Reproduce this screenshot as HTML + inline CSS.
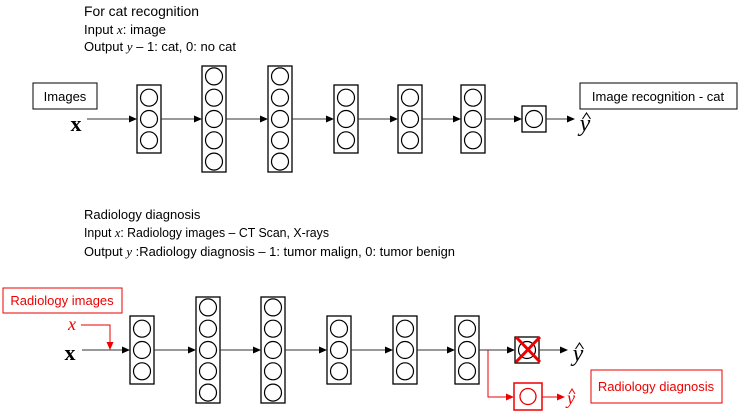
<!DOCTYPE html>
<html><head><meta charset="utf-8"><style>
html,body{margin:0;padding:0;background:#fff;}
svg{display:block;font-family:"Liberation Sans",sans-serif;}
</style></head><body>
<svg id="s" width="741" height="416" viewBox="0 0 741 416">
<defs>
<marker id="ab" markerWidth="8" markerHeight="8" refX="7" refY="4" orient="auto" markerUnits="userSpaceOnUse"><path d="M0,0.5 L8,4 L0,7.5z" fill="#000"/></marker>
<marker id="ar" markerWidth="8" markerHeight="8" refX="7" refY="4" orient="auto" markerUnits="userSpaceOnUse"><path d="M0,0.5 L8,4 L0,7.5z" fill="#e00"/></marker>
</defs>
<text x="84" y="16" font-size="14" textLength="115" lengthAdjust="spacingAndGlyphs">For cat recognition</text>
<text x="84" y="34" font-size="13" textLength="82" lengthAdjust="spacingAndGlyphs">Input <tspan font-family="Liberation Serif" font-style="italic">x</tspan>: image</text>
<text x="84" y="51" font-size="13" textLength="152" lengthAdjust="spacingAndGlyphs">Output <tspan font-family="Liberation Serif" font-style="italic">y</tspan> – 1: cat, 0: no cat</text>
<rect x="33" y="83" width="64" height="26" fill="none" stroke="#000"/>
<text x="65" y="101" font-size="13" text-anchor="middle">Images</text>
<text x="76" y="131" font-size="22" font-weight="bold" font-family="Liberation Serif" text-anchor="middle">x</text>
<rect x="580" y="83" width="157" height="26" fill="none" stroke="#000"/>
<text x="658" y="101" font-size="13" text-anchor="middle">Image recognition - cat</text>
<text x="585" y="131" font-size="24" font-family="Liberation Serif" font-style="italic" text-anchor="middle">y</text>
<path d="M582.5,119 L586.5,113 L590.5,119" fill="none" stroke="#000" stroke-width="1.1"/>

<text x="84" y="219" font-size="13">Radiology diagnosis</text>
<text x="84" y="237" font-size="12.5" textLength="245" lengthAdjust="spacingAndGlyphs">Input <tspan font-family="Liberation Serif" font-style="italic">x</tspan>: Radiology images – CT Scan, X-rays</text>
<text x="84" y="256" font-size="12.5" textLength="371" lengthAdjust="spacingAndGlyphs">Output <tspan font-family="Liberation Serif" font-style="italic">y</tspan> :Radiology diagnosis – 1: tumor malign, 0: tumor benign</text>
<rect x="3" y="288" width="119" height="25" fill="none" stroke="#e00"/>
<text x="62" y="305" font-size="13" fill="#e00" text-anchor="middle">Radiology images</text>
<text x="72" y="330" font-size="18" font-family="Liberation Serif" font-style="italic" fill="#e00" text-anchor="middle">x</text>
<path d="M81,325 H110 V349" fill="none" stroke="#e00" marker-end="url(#ar)"/>
<text x="70" y="360" font-size="22" font-weight="bold" font-family="Liberation Serif" text-anchor="middle">x</text>
<text x="578" y="361" font-size="24" font-family="Liberation Serif" font-style="italic" text-anchor="middle">y</text>
<path d="M575.5,349 L579.5,343 L583.5,349" fill="none" stroke="#000" stroke-width="1.1"/>
<path d="M488,350 V397 H513" fill="none" stroke="#e00" marker-end="url(#ar)"/>
<rect x="514" y="383" width="28" height="27" fill="none" stroke="#e00" stroke-width="1.5"/>
<circle cx="528" cy="396.5" r="8" fill="none" stroke="#e00" stroke-width="1.3"/>
<line x1="542" y1="397" x2="564" y2="397" stroke="#e00" marker-end="url(#ar)"/>
<text x="571" y="404" font-size="18" font-family="Liberation Serif" font-style="italic" fill="#e00" text-anchor="middle">y</text>
<path d="M569,394 L572,389 L575,394" fill="none" stroke="#e00" stroke-width="1"/>
<rect x="591" y="370" width="131" height="33" fill="none" stroke="#e00"/>
<text x="656" y="391" font-size="13" fill="#e00" text-anchor="middle">Radiology diagnosis</text>
</svg>
<script>
const topLayerX=[137,202,268,334,398,461,522];
const topLayerN=[3,5,5,3,3,3,1];
const botLayerX=[130,196,261,327,393,455,515];
const botLayerN=[3,5,5,3,3,3,1];
const svg=document.getElementById('s');
const NS='http://www.w3.org/2000/svg';
function mk(t,a){const e=document.createElementNS(NS,t);for(const k in a)e.setAttribute(k,a[k]);svg.appendChild(e);return e;}
function net(xs,ns,cy,startX,endX,prefix){
  let prev=startX;
  for(let i=0;i<xs.length;i++){
    const n=ns[i],w=24,h=n===1?26:n*21+(n===3?5:1);
    const x=xs[i],y=cy-h/2;
    const ln=mk('line',{x1:prev,y1:cy,x2:x-1,y2:cy,stroke:'#333','marker-end':'url(#ab)'});
    
    
    const r=mk('rect',{x:x,y:y,width:w,height:h,fill:'none',stroke:'#000','stroke-width':1.3});
    
    
    for(let j=0;j<n;j++){
      const c=mk('circle',{cx:x+12,cy:cy+(j-(n-1)/2)*21.3,r:8.5,fill:'none',stroke:'#000','stroke-width':1.2});
      
      
    }
    prev=x+w;
  }
  const l=mk('line',{x1:prev,y1:cy,x2:endX,y2:cy,stroke:'#333','marker-end':'url(#ab)'});
  
  
}
net(topLayerX,topLayerN,119,87,574,'cat');
net(botLayerX,botLayerN,350,82,567,'radiology');
const x1=mk('path',{d:'M516,337 L540,362 M540,337 L516,362',stroke:'#e00','stroke-width':3,fill:'none'});


</script>
</body></html>
